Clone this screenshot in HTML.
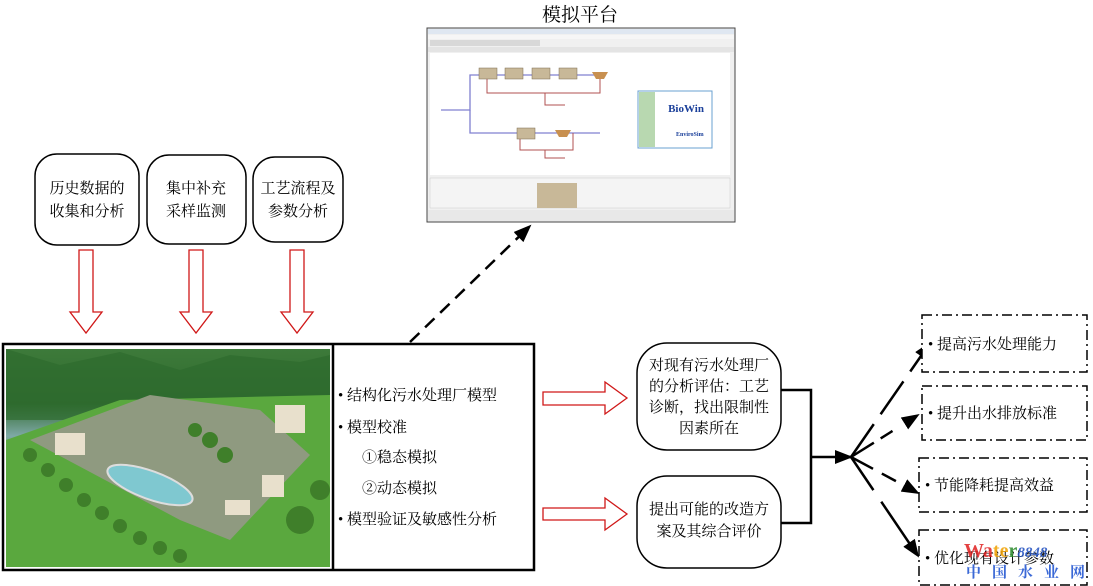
<!DOCTYPE html>
<html><head><meta charset="utf-8"><style>
html,body{margin:0;padding:0;background:#fff}
svg{display:block}
text{font-family:"Liberation Serif","Noto Serif CJK SC","Noto Sans CJK SC",serif;fill:#000}
</style></head><body>
<svg width="1093" height="586" viewBox="0 0 1093 586" xmlns="http://www.w3.org/2000/svg">
<defs>
<linearGradient id="sky" x1="0" y1="0" x2="0" y2="1"><stop offset="0" stop-color="#3d7a3a"/><stop offset="0.25" stop-color="#2f6a2e"/><stop offset="0.4" stop-color="#7fa9a6"/><stop offset="0.5" stop-color="#5c8e4a"/><stop offset="1" stop-color="#4f9a35"/></linearGradient>
<marker id="ahb" markerWidth="18" markerHeight="14" refX="16" refY="7" orient="auto" markerUnits="userSpaceOnUse"><path d="M0,0 L18,7 L0,14 z" fill="#000"/></marker>
</defs>

<text x="580" y="21" font-size="19" text-anchor="middle">模拟平台</text>
<!-- screenshot -->
<rect x="427" y="28" width="308" height="194" fill="#f0f0f0" stroke="#444" stroke-width="1"/>
<rect x="428" y="29" width="306" height="5" fill="#dfe7f1"/>
<rect x="428" y="35" width="306" height="4" fill="#f6f6f6"/>
<rect x="430" y="40" width="110" height="6" fill="#d8d8d8"/>
<rect x="428" y="47" width="306" height="5" fill="#e4e4e4"/>
<rect x="430" y="53" width="300" height="122" fill="#fff"/>
<g stroke="#8080d0" stroke-width="1.3" fill="none">
<path d="M441,110 H470 V75 H600"/><path d="M470,110 V133 H545 H600"/>
</g>
<g stroke="#b05050" stroke-width="1" fill="none">
<path d="M487,75 V93 H600 V75"/><path d="M545,93 V105 H565"/><path d="M520,133 V150 H573 V133"/><path d="M545,150 V158 H565"/>
</g>
<g fill="#c8b898" stroke="#7a6a50" stroke-width="0.5">
<rect x="479" y="68" width="18" height="11"/><rect x="505" y="68" width="18" height="11"/><rect x="532" y="68" width="18" height="11"/><rect x="559" y="68" width="18" height="11"/><rect x="517" y="128" width="18" height="11"/>
</g>
<path d="M592,72 h16 l-4,7 h-8z" fill="#c89050"/><path d="M555,130 h16 l-4,7 h-8z" fill="#c89050"/>
<rect x="638" y="91" width="74" height="57" fill="#fff" stroke="#6aa0d0"/>
<rect x="639" y="92" width="16" height="55" fill="#b8d8b0"/>
<text x="686" y="112" font-size="11" font-weight="bold" text-anchor="middle" style="fill:#1a3f9a">BioWin</text>
<text x="676" y="136" font-size="6" font-weight="bold" style="fill:#1a3f9a">EnviroSim</text>
<rect x="430" y="178" width="300" height="30" fill="#f4f4f4" stroke="#ccc" stroke-width="0.5"/>
<rect x="537" y="183" width="40" height="25" fill="#c8b898"/>
<rect x="428" y="210" width="306" height="11" fill="#e8e8e8"/>

<!-- dashed arrow -->
<line x1="410" y1="342" x2="530" y2="226" stroke="#000" stroke-width="2.5" stroke-dasharray="13,8" marker-end="url(#ahb)"/>

<!-- top boxes -->
<g fill="#fff" stroke="#000" stroke-width="1.5">
<rect x="35" y="154" width="104" height="91" rx="22"/>
<rect x="147" y="155" width="99" height="89" rx="22"/>
<rect x="253" y="157" width="90" height="85" rx="22"/>
</g>
<g font-size="15" text-anchor="middle">
<text x="87" y="193">历史数据的</text><text x="87" y="216">收集和分析</text>
<text x="196" y="193">集中补充</text><text x="196" y="216">采样监测</text>
<text x="298" y="193">工艺流程及</text><text x="298" y="216">参数分析</text>
</g>
<!-- red down arrows -->
<g fill="#fff" stroke="#d01818" stroke-width="1.3">
<path d="M79,250 H93 V312 H102 L86,333 L70,312 H79 Z"/>
<path d="M189,250 H203 V312 H212 L196,333 L180,312 H189 Z"/>
<path d="M290,250 H304 V312 H313 L297,333 L281,312 H290 Z"/>
</g>

<!-- main box -->
<rect x="3" y="344" width="531" height="226" fill="#fff" stroke="#000" stroke-width="2.5"/>
<line x1="333" y1="344" x2="333" y2="570" stroke="#000" stroke-width="2.5"/>
<rect x="6" y="349" width="324" height="218" fill="url(#sky)"/>
<path d="M6,349 L60,365 L120,352 L180,370 L230,355 L300,362 L330,355 V420 H6Z" fill="#2e6b2e" opacity="0.7"/>
<path d="M6,440 L120,400 L330,395 V567 H6Z" fill="#5aa83e"/>
<path d="M30,440 L150,395 L260,410 L310,455 L230,540 L180,520 Z" fill="#8f9a80"/>
<g fill="#3f7f2a">
<circle cx="30" cy="455" r="7"/><circle cx="48" cy="470" r="7"/><circle cx="66" cy="485" r="7"/><circle cx="84" cy="500" r="7"/><circle cx="102" cy="513" r="7"/><circle cx="120" cy="526" r="7"/><circle cx="140" cy="538" r="7"/><circle cx="160" cy="548" r="7"/><circle cx="180" cy="556" r="7"/>
<circle cx="210" cy="440" r="8"/><circle cx="225" cy="455" r="8"/><circle cx="195" cy="430" r="7"/><circle cx="300" cy="520" r="14"/><circle cx="320" cy="490" r="10"/>
</g>
<ellipse cx="150" cy="485" rx="45" ry="14" fill="#7fc8d0" stroke="#ddd" stroke-width="2" transform="rotate(20 150 485)"/>
<rect x="55" y="433" width="30" height="22" fill="#e8e0cc"/><rect x="275" y="405" width="30" height="28" fill="#e8e0cc"/>
<rect x="262" y="475" width="22" height="22" fill="#e8e0cc"/><rect x="225" y="500" width="25" height="15" fill="#e8e0cc"/>

<g font-size="15">
<text x="338" y="400">• 结构化污水处理厂模型</text>
<text x="338" y="432">• 模型校准</text>
<text x="362" y="462">①稳态模拟</text>
<text x="362" y="493">②动态模拟</text>
<text x="338" y="524">• 模型验证及敏感性分析</text>
</g>

<!-- red right arrows -->
<g fill="#fff" stroke="#d01818" stroke-width="1.3">
<path d="M543,392 H605 V382 L627,398 L605,414 V405 H543 Z"/>
<path d="M543,508 H605 V498 L627,514 L605,530 V520 H543 Z"/>
</g>

<!-- middle boxes -->
<g fill="#fff" stroke="#000" stroke-width="1.5">
<rect x="637" y="343" width="144" height="107" rx="30"/>
<rect x="637" y="476" width="144" height="92" rx="30"/>
</g>
<g font-size="15" text-anchor="middle">
<text x="709" y="370">对现有污水处理厂</text><text x="709" y="391">的分析评估：工艺</text>
<text x="709" y="412">诊断，找出限制性</text><text x="709" y="433">因素所在</text>
<text x="709" y="514">提出可能的改造方</text><text x="709" y="536">案及其综合评价</text>
</g>

<!-- bracket -->
<path d="M781,390 H811 V523 H781" fill="none" stroke="#000" stroke-width="2.5"/>
<line x1="811" y1="457" x2="851" y2="457" stroke="#000" stroke-width="2.5" marker-end="url(#ahb)"/>
<!-- fan -->
<g stroke="#000" stroke-width="2.5" fill="none">
<line x1="851" y1="457" x2="930" y2="343" stroke-dasharray="40,12" marker-end="url(#ahb)"/>
<line x1="851" y1="457" x2="918" y2="415" stroke-dasharray="27,8,14,50" marker-end="url(#ahb)"/>
<line x1="851" y1="457" x2="918" y2="493" stroke-dasharray="25,10,16,50" marker-end="url(#ahb)"/>
<line x1="851" y1="457" x2="918" y2="556" stroke-dasharray="40,14,60" marker-end="url(#ahb)"/>
</g>
<!-- right boxes -->
<g fill="#fff" stroke="#000" stroke-width="1.5" stroke-dasharray="10,4,2,4">
<rect x="922" y="315" width="165" height="57"/>
<rect x="922" y="386" width="165" height="54"/>
<rect x="919" y="458" width="168" height="54"/>
<rect x="919" y="530" width="168" height="55"/>
</g>
<g font-size="15">
<text x="928" y="349">• 提高污水处理能力</text>
<text x="928" y="418">• 提升出水排放标准</text>
<text x="925" y="490">• 节能降耗提高效益</text>
<text x="925" y="563">• 优化现有设计参数</text>
</g>
<text x="964" y="557" font-size="20" font-weight="bold" font-family="Liberation Sans,sans-serif" style="fill:#e02020" opacity="0.85">Wa<tspan style="fill:#f0a000">te</tspan><tspan style="fill:#2a8a2a">r</tspan><tspan font-style="italic" font-size="15" style="fill:#2050c0">8848</tspan></text>
<text x="966" y="577" font-size="15" font-weight="bold" letter-spacing="11" style="fill:#1a4fd0" opacity="0.85">中国水业网</text>
</svg>
</body></html>
